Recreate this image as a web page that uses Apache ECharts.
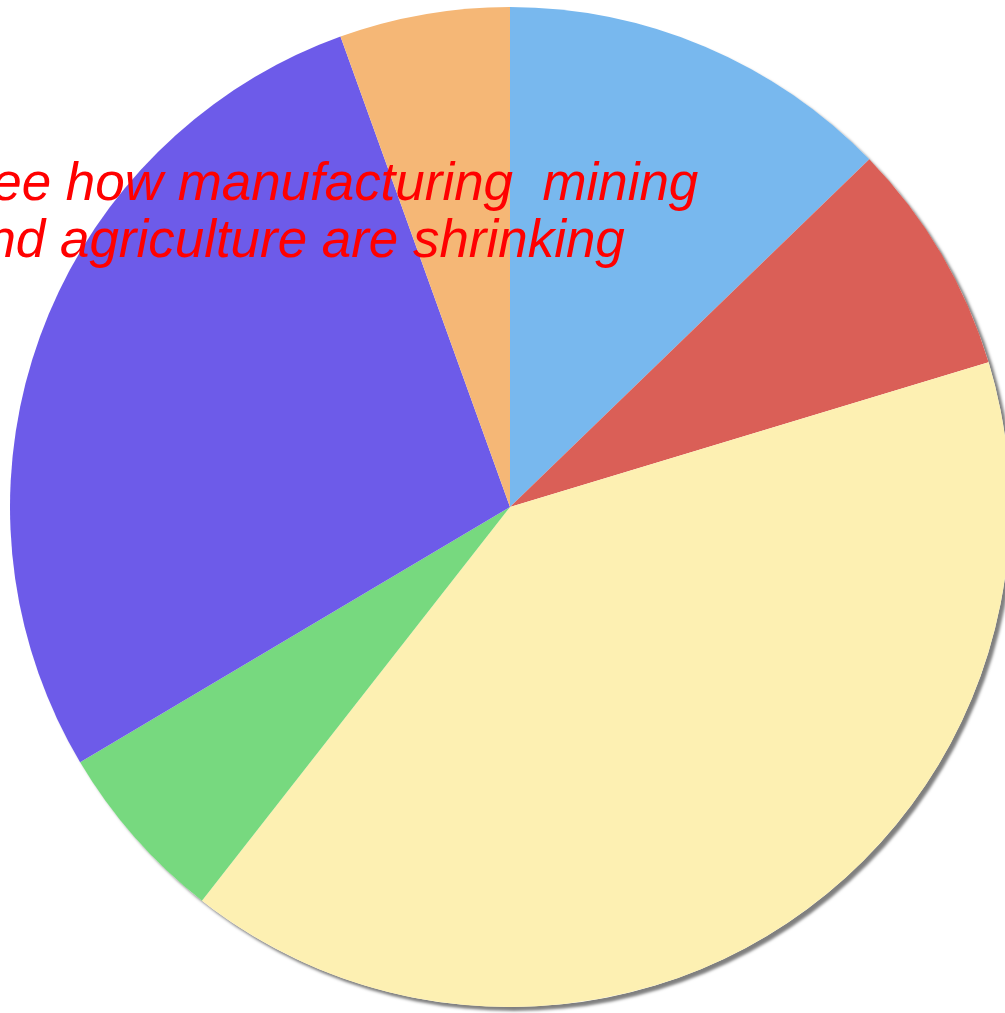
<!DOCTYPE html>
<html>
<head>
<meta charset="utf-8">
<script src="https://cdn.jsdelivr.net/npm/echarts@6/dist/echarts.min.js"></script>
<style>html,body{margin:0;padding:0;background:#fff}#c{width:1005px;height:1013px}</style>
</head>
<body>
<div id="c"></div>
<script>
var categories = ['Sector A', 'Sector B', 'Sector C', 'Sector D', 'Sector E', 'Sector F'];
var values = [12.75, 7.56, 40.2, 5.9, 28.0, 5.5];
var colors = ['#78b8ee', '#da5f57', '#fdf0b2', '#77d97f', '#6d5be9', '#f5b776'];
var titleLines = ['See how manufacturing  mining', 'and agriculture are shrinking'];

var chart = echarts.init(document.getElementById('c'));
chart.setOption({
  animation: false,
  series: [
    {
      type: 'pie', silent: true, center: [510, 507], radius: 500,
      label: {show: false}, labelLine: {show: false},
      itemStyle: {color: '#ffffff', shadowColor: 'rgba(0,0,0,0.5)', shadowBlur: 3, shadowOffsetX: 4, shadowOffsetY: 4},
      data: [{value: 1, name: 'bg'}]
    },
    {
      type: 'pie', center: [510, 507], radius: 500, startAngle: 90, clockwise: true,
      label: {show: false}, labelLine: {show: false},
      emphasis: {disabled: true},
      data: categories.map(function (c, i) {
        return {name: c, value: values[i], itemStyle: {color: colors[i]}};
      })
    }
  ],
  graphic: [{
    type: 'text', x: -43, y: 156, scaleX: 0.98, z: 100,
    style: {
      text: titleLines.join('\n'),
      font: 'italic 54px "Liberation Sans", Arial, sans-serif',
      fill: '#ff0000', lineHeight: 57.5
    }
  }]
});
</script>
</body>
</html>
